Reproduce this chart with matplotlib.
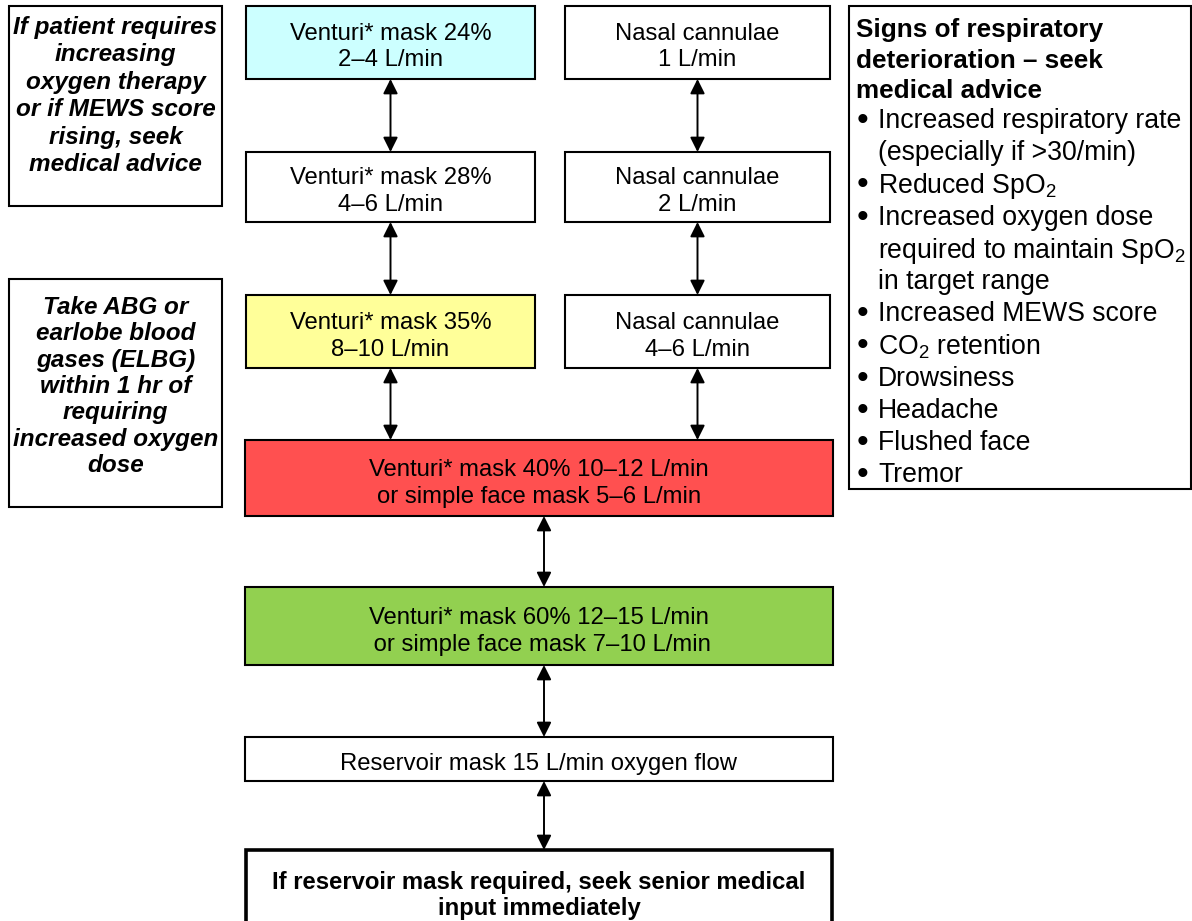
import matplotlib.pyplot as plt
from matplotlib.patches import Rectangle

plt.rcParams['font.family'] = ['Liberation Sans', 'DejaVu Sans']
plt.rcParams['mathtext.default'] = 'regular'

# box texts and fills
venturi_labels = ['Venturi* mask 24%\n2–4 L/min', 'Venturi* mask 28%\n4–6 L/min',
                  'Venturi* mask 35%\n8–10 L/min']
venturi_colors = ['#CCFFFF', '#FFFFFF', '#FFFF99']
nasal_labels = ['Nasal cannulae\n1 L/min', 'Nasal cannulae\n2 L/min', 'Nasal cannulae\n4–6 L/min']
wide_labels = ['Venturi* mask 40% 10–12 L/min\nor simple face mask 5–6 L/min',
               'Venturi* mask 60% 12–15 L/min\n or simple face mask 7–10 L/min',
               'Reservoir mask 15 L/min oxygen flow']
wide_colors = ['#FF5050', '#92D050', '#FFFFFF']
side_notes = ['If patient requires\nincreasing\noxygen therapy\nor if MEWS score\nrising, seek\nmedical advice',
              'Take ABG or\nearlobe blood\ngases (ELBG)\nwithin 1 hr of\nrequiring\nincreased oxygen\ndose']
signs_title = ['Signs of respiratory', 'deterioration – seek', 'medical advice']
signs = [['Increased respiratory rate', '(especially if >30/min)'],
         ['Reduced SpO$_2$'],
         ['Increased oxygen dose', 'required to maintain SpO$_2$', 'in target range'],
         ['Increased MEWS score'],
         ['CO$_2$ retention'],
         ['Drowsiness'],
         ['Headache'],
         ['Flushed face'],
         ['Tremor']]
final_note = 'If reservoir mask required, seek senior medical\ninput immediately'

W, H = 1192, 921
fig = plt.figure(figsize=(W / 100, H / 100), dpi=100)
ax = fig.add_axes([0, 0, 1, 1])
ax.set_xlim(0, W)
ax.set_ylim(H, 0)
ax.axis('off')

FS = 17.2


def box(x0, y0, x1, y1, fc='white', lw=1.5):
    ax.add_patch(Rectangle((x0, y0), x1 - x0, y1 - y0, facecolor=fc,
                           edgecolor='black', lw=lw, zorder=2))


def arrow(x, y0, y1):
    ax.annotate('', xy=(x, y1), xytext=(x, y0),
                arrowprops=dict(arrowstyle='<|-|>', color='black', lw=1.4,
                                mutation_scale=22, shrinkA=0, shrinkB=0), zorder=3)


def lines(x, y_first, text, step, **kw):
    # one text per line so spacing follows the reference
    for i, s in enumerate(text.split('\n')):
        ax.text(x, y_first + i * step, s, va='center_baseline', zorder=4, **kw)


def centred(x, yc, text, step=27, **kw):
    n = text.count('\n') + 1
    lines(x, yc - (n - 1) * step / 2, text, step, ha='center', **kw)


# two columns of small boxes
rows = [(6, 79), (152, 222), (295, 368)]
cols = [(246, 535), (565, 830)]
for i, (y0, y1) in enumerate(rows):
    for (x0, x1), labels, colors in [(cols[0], venturi_labels, venturi_colors),
                                     (cols[1], nasal_labels, ['#FFFFFF'] * 3)]:
        box(x0, y0, x1, y1, colors[i])
        centred((x0 + x1) / 2, (y0 + y1) / 2 + 2, labels[i], fontsize=FS)

for x0, x1 in cols:
    xc = (x0 + x1) / 2
    arrow(xc, rows[0][1], rows[1][0])
    arrow(xc, rows[1][1], rows[2][0])
    arrow(xc, rows[2][1], 440)

# wide boxes
wide = [(440, 516), (587, 665), (737, 781)]
for (y0, y1), lab, c in zip(wide, wide_labels, wide_colors):
    box(245, y0, 833, y1, c)
    centred(539, (y0 + y1) / 2 + 2.5, lab, fontsize=FS)
arrow(544, wide[0][1], wide[1][0])
arrow(544, wide[1][1], wide[2][0])
arrow(544, wide[2][1], 850)

# final note
box(246, 850, 832, 930, lw=2.6)
lines(539, 880, final_note, 26, ha='center', fontsize=FS, fontweight='bold')

# side notes
for (y0, y1), note, yfirst, step in zip([(6, 206), (279, 507)], side_notes,
                                        [25, 305], [27.4, 26.3]):
    box(9, y0, 222, y1)
    lines(115.5, yfirst, note, step, ha='center', fontsize=17.5,
          fontweight='bold', style='italic')

# signs box
box(849, 6, 1191, 489)
for i, line in enumerate(signs_title):
    ax.text(856, 28 + 30 * i, line, ha='left', va='center_baseline', fontsize=18.8,
            fontweight='bold', zorder=4)
j = 0
for item in signs:
    ax.text(862, 118 + 32.2 * j, '•', ha='center', va='center_baseline', fontsize=24, zorder=4)
    for line in item:
        ax.text(878, 118 + 32.2 * j, line, ha='left', va='center_baseline',
                fontsize=19.2, zorder=4)
        j += 1

fig.savefig('out.png', dpi=100)
